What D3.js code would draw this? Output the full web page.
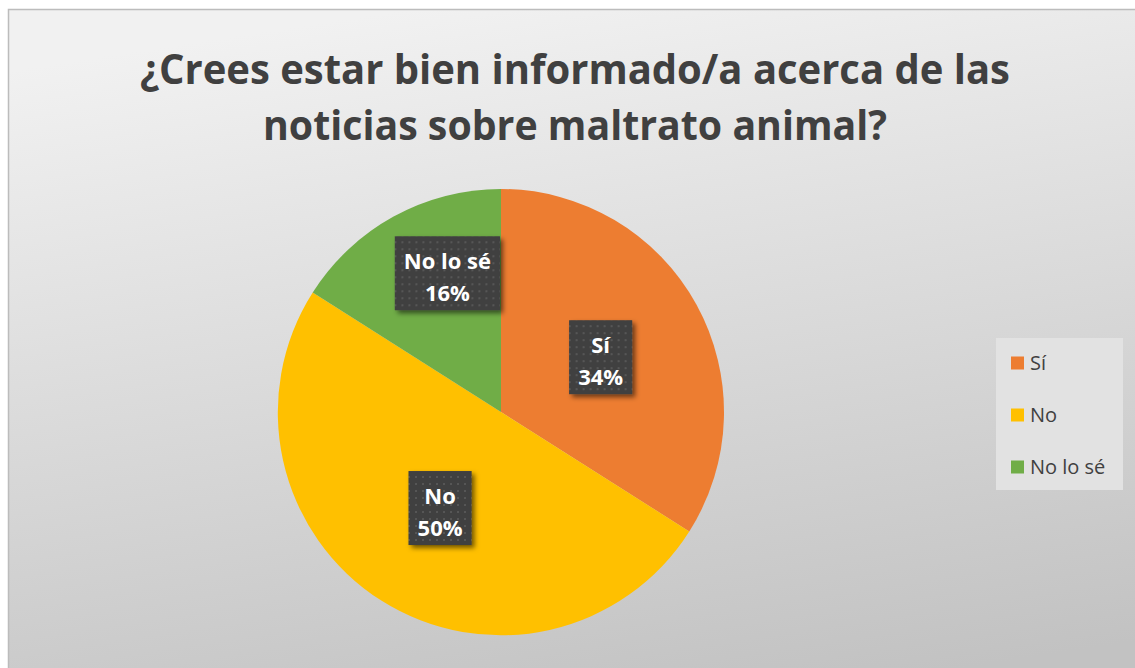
<!DOCTYPE html>
<html>
<head>
<meta charset="utf-8">
<script src="https://cdn.jsdelivr.net/npm/d3@7"></script>
<style>
  html, body { margin: 0; padding: 0; background: #ffffff; overflow: hidden; }
  svg { display: block; }
</style>
</head>
<body>
<div id="chart"></div>
<script>
// chart data
var titleLines = ['¿Crees estar bien informado/a acerca de las', 'noticias sobre maltrato animal?'];
var categories = ['Sí', 'No', 'No lo sé'];
var percents = [34, 50, 16];
var colors = ['#ED7D31', '#FFC000', '#70AD47'];

var width = 1135, height = 668;
var cx = 501, cy = 412, radius = 223;
var FONT = '"Open Sans", "Noto Sans", sans-serif';

var svg = d3.select('#chart').append('svg')
    .attr('width', width)
    .attr('height', height);

var defs = svg.append('defs');

// background gradient, light at the top going to grey at the bottom
var bg = defs.append('linearGradient')
    .attr('id', 'bg')
    .attr('x1', '0.35').attr('y1', '0')
    .attr('x2', '0.6').attr('y2', '1');
bg.append('stop').attr('offset', '0%').attr('stop-color', '#f1f1f1');
bg.append('stop').attr('offset', '100%').attr('stop-color', '#c2c2c2');

// dotted texture of the data labels
var pat = defs.append('pattern')
    .attr('id', 'dots')
    .attr('patternUnits', 'userSpaceOnUse')
    .attr('width', 7).attr('height', 7);
pat.append('rect').attr('width', 7).attr('height', 7).attr('fill', '#404040');
pat.append('rect').attr('x', 3).attr('y', 3).attr('width', 2).attr('height', 2).attr('fill', '#575757');

var shadow = defs.append('filter')
    .attr('id', 'shadow')
    .attr('x', '-20%').attr('y', '-20%')
    .attr('width', '150%').attr('height', '150%');
shadow.append('feDropShadow')
    .attr('dx', 3).attr('dy', 3)
    .attr('stdDeviation', 2.5)
    .attr('flood-color', '#000')
    .attr('flood-opacity', 0.55);

svg.append('rect')
    .attr('x', 8.5).attr('y', 9.5)
    .attr('width', 1140).attr('height', 700)
    .attr('fill', 'url(#bg)')
    .attr('stroke', '#bcbcbc')
    .attr('stroke-width', 1.5);

// title
var titleWidths = [870, 624];
svg.append('g').selectAll('text')
    .data(titleLines)
    .enter()
    .append('text')
    .attr('x', 575)
    .attr('y', function (d, i) { return 84 + i * 56; })
    .attr('text-anchor', 'middle')
    .attr('font-family', FONT)
    .attr('font-weight', 700)
    .attr('font-size', 41)
    .attr('fill', '#404040')
    .attr('textLength', function (d, i) { return titleWidths[i]; })
    .attr('lengthAdjust', 'spacingAndGlyphs')
    .text(function (d) { return d; });

// pie
var data = categories.map(function (c, i) {
    return { name: c, value: percents[i], color: colors[i] };
});
var pie = d3.pie()
    .sort(null)
    .value(function (d) { return d.value; });
var arcs = pie(data);
var arc = d3.arc().innerRadius(0).outerRadius(radius);

var pieG = svg.append('g').attr('transform', 'translate(' + cx + ',' + cy + ')');
pieG.selectAll('path')
    .data(arcs)
    .enter()
    .append('path')
    .attr('d', arc)
    .attr('fill', function (d) { return d.data.color; });

// data labels
var isSmall = function (d) { return (d.endAngle - d.startAngle) < 1.2; };
var labels = pieG.selectAll('.lbl')
    .data(arcs)
    .enter()
    .append('g')
    .attr('class', 'lbl');

labels.append('rect')
    .attr('fill', 'url(#dots)')
    .attr('filter', 'url(#shadow)');

labels.append('text')
    .attr('text-anchor', 'middle')
    .attr('font-family', FONT)
    .attr('font-weight', 700)
    .attr('font-size', 22)
    .attr('fill', '#ffffff')
    .each(function (d) {
        var t = d3.select(this);
        t.append('tspan').attr('x', 0).attr('y', -4).text(d.data.name);
        t.append('tspan').attr('x', 0).attr('y', 28).text(d.data.value + '%');
    });

labels.each(function (d) {
    var g = d3.select(this);
    var bb = g.select('text').node().getBBox();
    var w = Math.max(bb.width + 18, 62);
    g.select('rect')
        .attr('x', -w / 2)
        .attr('y', -37)
        .attr('width', w)
        .attr('height', 74);
    var r = isSmall(d) ? radius * 0.71 : radius * 0.51;
    var c = d3.arc().innerRadius(r).outerRadius(r).centroid(d);
    // small slice: box pushed against the slice edge, like Excel's best fit
    if (isSmall(d)) c[0] = -w / 2 - 1;
    g.attr('transform', 'translate(' + c[0] + ',' + c[1] + ')');
});

// legend
var legend = svg.append('g').attr('transform', 'translate(996,338)');
legend.append('rect')
    .attr('width', 127).attr('height', 152)
    .attr('fill', '#e2e2e2');
var items = legend.selectAll('.item')
    .data(data)
    .enter()
    .append('g')
    .attr('class', 'item')
    .attr('transform', function (d, i) { return 'translate(15,' + (25 + i * 52) + ')'; });
items.append('rect')
    .attr('x', 0).attr('y', -6.5)
    .attr('width', 13).attr('height', 13)
    .attr('fill', function (d) { return d.color; });
items.append('text')
    .attr('x', 19).attr('y', 7)
    .attr('font-family', FONT)
    .attr('font-size', 20)
    .attr('fill', '#404040')
    .text(function (d) { return d.name; });
</script>
</body>
</html>
